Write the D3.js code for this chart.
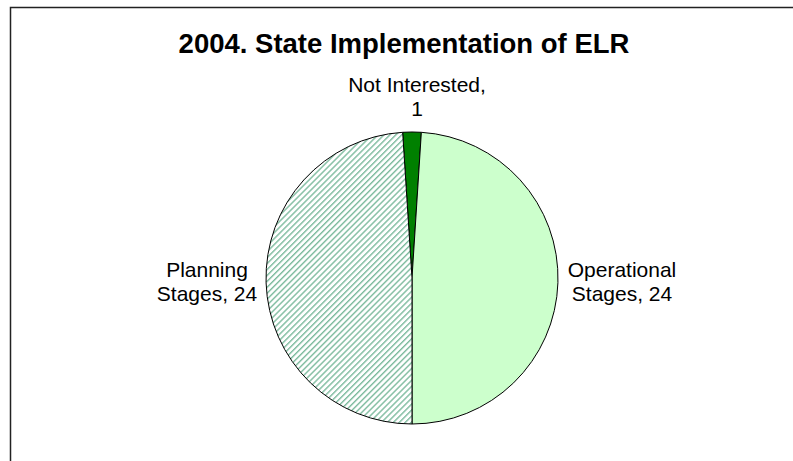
<!DOCTYPE html>
<html>
<head>
<meta charset="utf-8">
<script src="https://cdn.jsdelivr.net/npm/d3@7"></script>
<style>
  body { margin: 0; background: #fff; }
  text { font-family: "Liberation Sans", Arial, sans-serif; fill: #000; }
</style>
</head>
<body>
<div class="graph-container"></div>
<script>
const width = 793,
    height = 461;

// dati del grafico
const categories = ["Not Interested", "Operational Stages", "Planning Stages"];
const values = [1, 24, 24];
const labelLines = [["Not Interested,", "1"], ["Operational", "Stages, 24"], ["Planning", "Stages, 24"]];

const cx = 412, cy = 278, radius = 146;

const svg = d3.select(".graph-container")
    .append("svg")
    .attr("width", width)
    .attr("height", height);

// pattern tratteggiato per "Planning"
const defs = svg.append("defs");
const pat = defs.append("pattern")
    .attr("id", "hatch")
    .attr("patternUnits", "userSpaceOnUse")
    .attr("width", 4.2)
    .attr("height", 4.2)
    .attr("patternTransform", "rotate(45)");
pat.append("rect").attr("width", 4.2).attr("height", 4.2).attr("fill", "#fff");
pat.append("rect").attr("width", 1.4).attr("height", 4.2).attr("fill", "#7dbb9e");

// bordo dell'area del grafico
svg.append("rect")
    .attr("x", 10.5)
    .attr("y", 7.5)
    .attr("width", 820)
    .attr("height", 500)
    .attr("fill", "none")
    .attr("stroke", "#222")
    .attr("stroke-width", 1.5);

svg.append("text")
    .text("2004. State Implementation of ELR")
    .attr("x", 404)
    .attr("y", 53)
    .attr("text-anchor", "middle")
    .style("font-size", "27.5px")
    .style("font-weight", "bold");

const color = d3.scaleOrdinal()
    .domain(categories)
    .range(["#008000", "#CCFFCC", "url(#hatch)"]);

const half = Math.PI * values[0] / d3.sum(values);
const pie = d3.pie()
    .sort(null)
    .startAngle(-half)
    .endAngle(2 * Math.PI - half);
const arcs = pie(values);

const arc = d3.arc()
    .innerRadius(0)
    .outerRadius(radius);

const g = svg.append("g")
    .attr("transform", `translate(${cx}, ${cy})`);

g.selectAll("path")
    .data(arcs)
    .join("path")
    .attr("d", arc)
    .attr("fill", (d, i) => color(categories[i]))
    .attr("stroke", "#000")
    .attr("stroke-width", 1);

// posizioni delle etichette
const labelPos = [[417, 92], [622, 277], [207, 277]];

labelLines.forEach((lines, i) => {
    const t = svg.append("text")
        .attr("text-anchor", "middle")
        .style("font-size", "21px");
    lines.forEach((l, j) => {
        t.append("tspan")
            .attr("x", labelPos[i][0])
            .attr("y", labelPos[i][1] + j * 24)
            .text(l);
    });
});
</script>
</body>
</html>
